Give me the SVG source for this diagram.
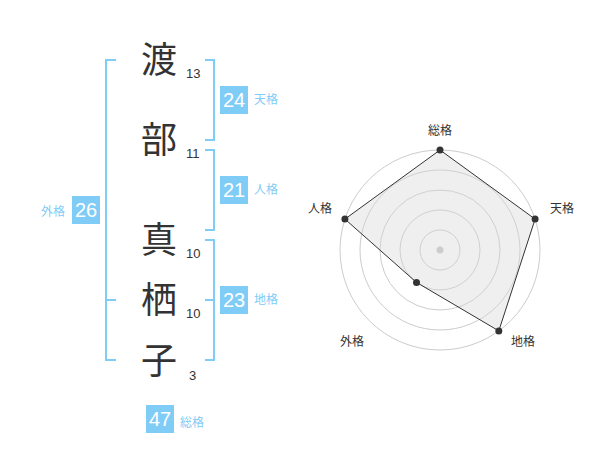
<svg xmlns="http://www.w3.org/2000/svg" width="600" height="470" viewBox="0 0 600 470">
<style>
.ch{font-family:"Noto Sans CJK JP","Noto Sans CJK SC",sans-serif;font-size:36px;fill:#333;text-anchor:middle}
.st{font-family:"Liberation Sans",Arial,sans-serif;font-size:13px;fill:#333}
.br{fill:none;stroke:#7fccf7;stroke-width:2}
.bx{fill:#7fccf7}
.bn{font-family:"Liberation Sans",Arial,sans-serif;font-size:20px;fill:#fff;text-anchor:middle}
.bl{font-family:"Liberation Sans","Noto Sans CJK JP",sans-serif;font-size:12px;fill:#7fccf7}
.ring{fill:none;stroke:#ccc;stroke-width:1}
.rl{font-family:"Liberation Sans","Noto Sans CJK JP",sans-serif;font-size:12px;fill:#333;text-anchor:middle}
.pt{fill:#333}
</style>
<rect width="600" height="470" fill="#fff"/>
<g id="connectors">
<path class="br" d="M116,60 H106 V360 H116 M106,300 H116"/>
<path class="br" d="M205,60 H214 V140 H205"/>
<path class="br" d="M205,150 H214 V230 H205"/>
<path class="br" d="M205,240 H214 V360 H205 M214,300 H205"/>
</g>
<g id="char-1"><text class="ch" x="159" y="73">渡</text><text class="st" x="186" y="78">13</text></g>
<g id="char-2"><text class="ch" x="159" y="153">部</text><text class="st" x="186" y="158">11</text></g>
<g id="char-3"><text class="ch" x="159" y="253">真</text><text class="st" x="186" y="258">10</text></g>
<g id="char-4"><text class="ch" x="159" y="313">栖</text><text class="st" x="186" y="318">10</text></g>
<g id="char-5"><text class="ch" x="159" y="374">子</text><text class="st" x="189" y="380">3</text></g>
<g id="tenkaku"><rect class="bx" x="220" y="86" width="28" height="28"/><text class="bn" x="234" y="107">24</text><text class="bl" x="254" y="104">天格</text></g>
<g id="jinkaku"><rect class="bx" x="220" y="176" width="28" height="28"/><text class="bn" x="234" y="197">21</text><text class="bl" x="254" y="194">人格</text></g>
<g id="chikaku"><rect class="bx" x="220" y="286" width="28" height="28"/><text class="bn" x="234" y="307">23</text><text class="bl" x="254" y="304">地格</text></g>
<g id="gaikaku"><rect class="bx" x="72" y="196" width="28" height="28"/><text class="bn" x="86" y="217">26</text><text class="bl" x="41" y="216">外格</text></g>
<g id="soukaku"><rect class="bx" x="146" y="405" width="28" height="28"/><text class="bn" x="160" y="426">47</text><text class="bl" x="180" y="427">総格</text></g>
<g id="radar">
<circle class="ring" cx="440" cy="250" r="20"/>
<circle class="ring" cx="440" cy="250" r="40"/>
<circle class="ring" cx="440" cy="250" r="60"/>
<circle class="ring" cx="440" cy="250" r="80"/>
<circle class="ring" cx="440" cy="250" r="100"/>
<polygon points="440,150 535.1,219.1 498.8,330.9 416.5,282.4 344.9,219.1" fill="#d8d8d8" fill-opacity="0.4" stroke="#333" stroke-width="1"/>
<circle cx="440" cy="250" r="3.5" fill="#ccc"/>
<circle class="pt" cx="440" cy="150" r="3.5"/>
<circle class="pt" cx="535.1" cy="219.1" r="3.5"/>
<circle class="pt" cx="498.8" cy="330.9" r="3.5"/>
<circle class="pt" cx="416.5" cy="282.4" r="3.5"/>
<circle class="pt" cx="344.9" cy="219.1" r="3.5"/>
<text class="rl" x="440" y="135">総格</text>
<text class="rl" x="562" y="213">天格</text>
<text class="rl" x="523" y="346">地格</text>
<text class="rl" x="352" y="346">外格</text>
<text class="rl" x="320" y="213">人格</text>
</g>
</svg>
